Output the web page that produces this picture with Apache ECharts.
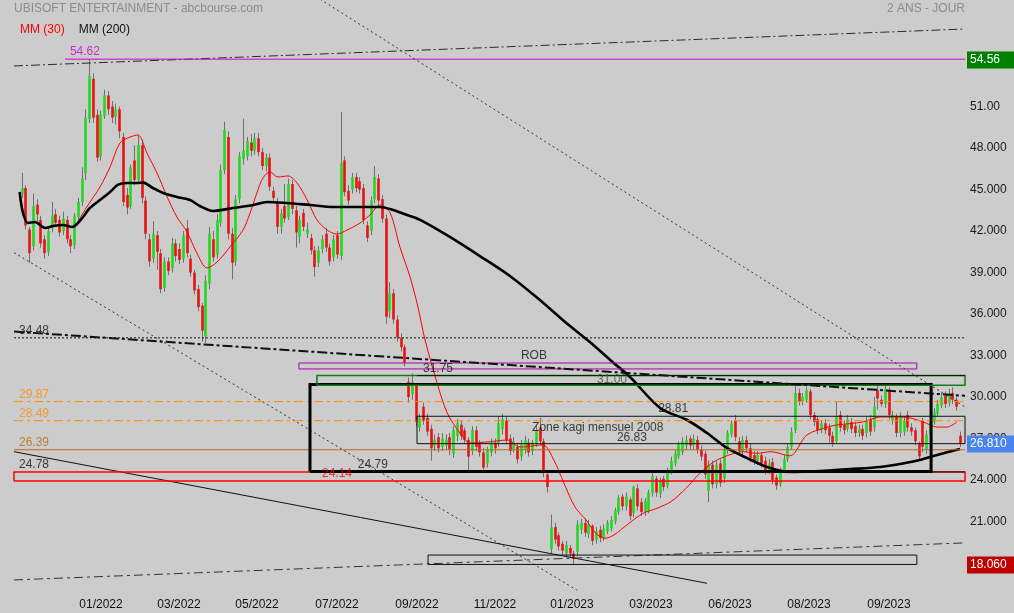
<!DOCTYPE html>
<html><head><meta charset="utf-8">
<script src="https://cdn.jsdelivr.net/npm/echarts@6/dist/echarts.min.js"></script>
<style>html,body{margin:0;padding:0;background:#cccccc}#c{width:1014px;height:613px}</style>
</head><body><div id="c"></div>
<script>
// ---------- DATA ----------
// daily candles (sampled), each [open, close, low, high]
const ohlc = [
[44.9,45.3,44.6,46.4],[45.3,42.6,42.3,45.5],[42.3,40.6,39.9,42.5],[41.1,44.0,40.8,44.9],[44.1,43.4,42.9,44.5],
[43.0,41.3,41.0,43.3],[41.6,40.6,40.2,41.9],[40.7,42.2,40.4,42.5],[42.4,43.3,42.1,44.3],[43.4,42.8,42.5,43.8],
[43.0,42.1,41.8,43.3],[42.2,43.1,41.9,43.6],[43.0,41.6,41.3,43.3],[41.6,41.1,40.6,41.9],[41.2,43.3,40.9,43.5],
[43.2,44.3,43.0,44.6],[44.3,46.0,44.0,46.8],[46.4,50.4,45.9,51.0],[50.3,53.4,50.0,54.62],[53.2,50.4,50.0,53.6],
[50.6,47.5,47.2,51.0],[47.6,50.6,47.3,50.9],[50.5,52.0,50.3,52.4],[52.0,51.0,50.6,52.3],[51.2,50.4,50.0,51.6],
[50.5,51.0,49.9,51.4],[51.0,49.4,48.9,51.2],[49.0,44.3,44.0,49.3],[44.8,43.9,43.4,45.3],[44.0,46.8,43.8,47.0],
[47.3,45.9,45.5,48.4],[45.9,48.4,45.6,49.1],[48.4,44.6,44.2,48.8],[44.4,42.0,41.6,44.7],[41.6,40.0,39.6,42.0],
[40.2,42.0,39.9,42.9],[41.9,40.7,39.4,42.2],[40.6,38.0,37.7,40.9],[38.1,40.0,37.8,40.3],[40.0,39.3,39.0,40.3],
[39.5,41.3,39.2,41.7],[41.3,40.4,40.0,41.6],[40.9,40.1,39.8,41.3],[40.2,41.9,39.9,42.2],[42.4,40.6,40.3,43.0],
[40.2,39.2,38.9,40.5],[39.2,37.9,37.6,39.4],[38.0,36.7,36.4,38.3],[36.8,35.0,34.2,37.0],[34.6,38.6,34.1,39.0],
[38.4,42.0,38.0,42.5],[41.6,40.3,40.0,42.2],[40.5,43.0,40.2,43.4],[42.8,46.6,42.5,47.0],[46.6,49.5,46.3,50.1],
[49.0,42.0,41.6,49.4],[42.0,39.9,38.7,42.4],[40.0,44.5,39.7,44.8],[44.5,47.6,44.2,47.9],[47.4,48.0,47.0,50.3],
[47.6,48.7,47.3,49.0],[48.6,48.0,47.6,49.2],[48.0,48.9,47.7,49.3],[48.9,47.9,47.6,49.3],[47.9,46.9,46.6,48.2],
[46.9,47.5,46.5,47.8],[47.5,45.4,45.1,47.8],[45.1,44.6,44.3,45.4],[44.3,42.5,42.0,44.6],[42.5,43.5,42.0,43.8],
[44.0,43.1,42.8,45.6],[43.2,45.6,43.0,46.0],[45.6,43.8,43.4,45.9],[43.7,42.1,41.0,44.0],[41.8,43.0,41.3,43.3],
[43.5,42.5,42.2,43.8],[42.0,42.3,41.7,42.8],[41.7,40.8,40.5,42.0],[40.8,39.6,38.9,41.1],[39.9,40.8,39.6,41.1],
[40.9,41.6,40.6,41.9],[42.0,41.0,40.7,42.4],[41.0,40.0,39.7,41.3],[40.3,41.6,40.0,41.9],[41.9,40.5,40.2,42.2],
[40.4,47.1,40.1,50.8],[47.3,45.0,44.7,47.6],[45.1,44.4,44.1,45.5],[45.2,46.1,44.9,46.4],[46.1,45.3,45.0,46.4],
[45.8,45.2,44.9,46.1],[45.3,43.0,42.7,45.6],[42.6,41.7,41.4,42.9],[42.2,44.4,41.9,44.7],[44.5,46.1,44.2,46.9],
[46.0,44.4,44.1,46.3],[44.5,43.1,42.8,44.8],[43.1,36.0,35.5,43.4],[36.4,37.7,35.9,38.5],[37.7,35.8,35.5,38.0],
[35.8,34.5,34.2,36.1],[34.5,33.8,33.5,34.8],[33.8,32.7,32.4,34.0],[31.3,30.2,29.8,31.6],[30.4,31.3,30.0,31.9],
[31.0,28.4,28.1,31.2],[28.0,28.7,27.7,29.0],[29.5,28.5,28.2,29.8],[28.7,27.7,27.4,29.0],[27.9,26.5,25.6,28.2],
[26.7,27.1,26.3,27.5],[27.3,26.5,26.2,27.6],[26.6,27.2,26.3,27.6],[26.7,27.1,26.4,27.5],[27.3,26.4,26.0,27.6],
[26.1,27.8,25.8,28.1],[27.4,28.3,27.0,28.6],[28.2,27.4,27.1,28.5],[27.8,27.1,26.8,28.0],[27.1,25.9,24.9,27.3],
[26.3,27.8,26.0,28.1],[27.8,26.6,26.3,28.1],[26.8,26.2,25.9,27.1],[26.2,25.1,24.8,26.5],[25.4,26.4,25.1,26.6],
[26.2,26.9,25.9,27.2],[26.9,26.5,26.1,27.2],[26.9,28.3,26.6,28.8],[27.9,28.6,27.5,29.0],[28.5,27.1,26.8,28.8],
[27.2,26.3,26.0,27.5],[26.4,27.0,26.2,27.3],[26.6,25.7,25.4,26.9],[25.9,26.8,25.6,27.1],[26.4,27.1,26.1,27.4],
[26.9,26.2,25.9,27.2],[26.3,26.9,26.0,27.1],[26.9,27.8,26.6,28.1],[28.0,27.0,26.7,28.7],[27.0,24.7,24.4,27.2],
[24.6,23.7,23.3,24.9],[19.2,20.8,18.9,21.7],[20.8,19.9,19.6,21.1],[20.2,19.4,19.1,20.4],[19.6,19.1,18.8,19.8],
[18.9,19.5,18.6,19.8],[19.3,18.9,18.6,19.5],[18.9,18.5,18.06,19.1],[19.0,21.0,18.7,21.3],[20.6,21.1,20.3,21.4],
[21.1,20.4,20.1,21.4],[20.3,21.0,20.0,21.3],[20.9,19.8,19.5,21.0],[19.9,20.5,19.6,20.8],[20.6,20.0,19.7,20.9],
[20.0,20.7,19.8,21.0],[20.5,21.1,20.3,21.3],[20.7,21.3,20.5,21.6],[21.2,22.0,21.0,22.2],[21.9,22.9,21.7,23.1],
[23.0,22.3,22.0,23.2],[22.3,23.0,22.0,23.3],[22.8,21.6,21.3,23.0],[21.8,23.7,21.5,23.8],[23.6,22.3,22.0,23.9],
[22.6,21.9,21.6,22.9],[21.9,22.7,21.6,22.9],[22.0,23.3,21.8,23.5],[23.3,24.5,23.0,24.7],[24.3,23.3,23.0,24.5],
[23.2,24.2,22.9,24.4],[24.3,23.7,23.4,24.5],[23.8,24.9,23.6,25.1],[24.8,25.6,24.6,25.9],[25.4,26.1,25.2,26.4],
[25.9,26.8,25.7,27.0],[26.2,27.0,26.0,27.3],[26.7,27.1,26.4,27.4],[27.2,26.7,26.4,27.4],[26.7,27.2,26.4,27.5],
[27.1,26.4,26.1,27.4],[26.4,25.9,25.6,26.7],[26.1,24.6,24.3,26.3],[23.4,25.3,22.6,25.6],[25.3,23.9,23.6,25.6],
[23.9,25.3,23.6,25.6],[25.4,24.0,23.7,25.7],[24.3,26.4,24.0,26.7],[26.3,27.6,26.1,27.8],[27.5,28.3,27.3,28.5],
[28.5,27.3,27.0,28.9],[27.0,26.3,26.0,27.3],[26.3,27.1,26.0,27.4],[27.1,26.5,26.2,27.4],[26.5,25.8,25.5,26.8],
[26.0,25.6,25.3,26.3],[25.6,26.0,25.3,26.3],[26.0,25.4,25.1,26.2],[25.6,24.9,24.6,25.9],[24.9,25.4,24.6,25.7],
[25.5,24.2,23.9,25.8],[24.4,23.8,23.5,24.6],[23.9,24.8,23.7,25.1],[24.9,25.7,24.7,26.0],[25.7,26.6,25.5,26.8],
[26.6,27.7,26.4,28.0],[27.8,30.5,27.6,31.0],[30.5,29.9,29.6,30.8],[29.9,30.2,29.6,30.5],[30.0,30.7,29.8,30.9],
[30.6,28.9,28.6,30.8],[28.9,28.4,28.1,29.1],[28.6,27.8,27.5,28.8],[27.8,28.3,27.6,28.5],[28.3,27.8,27.5,28.6],
[28.0,27.4,26.9,28.3],[27.4,26.9,26.6,27.7],[27.0,28.8,26.8,29.9],[28.9,28.0,27.7,29.2],[28.2,27.8,27.5,28.5],
[27.9,28.6,27.7,28.9],[28.4,27.9,27.6,28.7],[28.1,27.6,27.3,28.4],[27.6,27.9,27.3,28.2],[27.9,27.4,27.1,28.2],
[27.6,28.5,27.3,28.8],[28.6,27.7,27.4,28.9],[28.0,29.5,27.7,30.2],[30.7,30.1,29.3,31.2],[30.0,29.7,29.5,30.3],
[29.7,30.8,29.4,31.0],[30.6,28.9,28.6,30.9],[28.5,28.9,28.2,29.2],[28.8,27.6,27.3,29.0],[27.6,28.8,27.3,29.1],
[27.7,28.5,27.4,28.8],[28.9,28.0,27.7,29.2],[28.0,27.7,27.4,28.3],[27.8,27.0,26.7,28.0],[26.8,25.9,25.65,27.0],
[28.5,26.6,26.2,28.7],[26.4,27.5,26.1,27.8],[27.5,28.5,27.3,28.8],[28.4,29.1,28.2,29.4],[29.0,29.7,28.8,30.0],
[29.6,30.2,29.4,30.5],[30.3,29.7,29.4,30.6],[29.8,30.4,29.5,30.8],[30.5,30.0,29.7,30.9],[30.0,29.5,29.2,30.2],
[27.4,26.81,26.6,27.7]
];
// moving averages: [candle index, value]
const ma30 = [[14.0,42.42],[17.4,43.94],[20.9,45.38],[23.6,46.83],[26.2,48.56],[28.9,48.99],[31.0,49.14],[33.4,47.84],[36.1,46.39],[38.8,44.66],[41.4,43.21],[44.1,42.13],[46.7,40.61],[49.4,39.53],[52.1,39.96],[55.5,41.04],[59.0,42.27],[60.9,43.50],[62.7,44.95],[64.3,46.03],[66.2,46.47],[68.3,46.10],[71.0,46.18],[73.4,45.67],[76.1,44.44],[78.7,43.00],[81.4,42.27],[84.0,41.98],[86.7,42.27],[90.2,42.78],[92.8,43.36],[95.5,44.08],[98.2,43.50],[100.8,41.04],[103.5,38.88],[105.6,36.71],[107.5,34.32],[110.7,31.22],[113.4,29.05],[116.8,27.60],[119.5,26.88],[124.0,26.95],[129.3,27.09],[132.8,26.59],[138.9,26.74],[141.8,25.65],[144.5,23.97],[147.4,22.27],[150.4,21.31],[153.0,20.35],[155.4,19.99],[157.8,20.23],[161.8,21.07],[165.6,21.80],[169.3,22.16],[173.0,22.64],[177.0,23.60],[180.7,24.69],[184.5,25.53],[188.5,26.01],[192.2,26.25],[195.9,26.13],[199.7,26.25],[204.7,25.95],[209.2,27.46],[215.1,28.06],[217.2,28.18],[224.2,28.40],[228.7,28.76],[233.2,28.76],[236.7,28.69],[240.2,28.40],[243.9,28.03],[246.5,28.03],[249.2,28.40]];
const ma200 = [[-0.5,45.02],[0.4,43.50],[1.7,42.78],[3.6,42.85],[6.3,42.42],[8.4,42.56],[11.1,42.63],[13.5,42.49],[14.8,42.71],[16.4,43.21],[18.2,43.86],[20.9,44.44],[23.6,45.02],[25.7,45.55],[28.1,45.67],[30.8,45.67],[32.4,45.70],[35.0,45.31],[37.7,44.95],[41.4,44.66],[44.9,44.44],[47.5,44.01],[51.0,43.65],[56.3,43.86],[61.7,44.08],[65.4,44.30],[70.7,44.22],[76.9,44.08],[83.0,43.94],[89.4,43.94],[95.5,43.94],[99.0,43.72],[102.7,43.36],[106.2,43.00],[114.1,41.77],[122.1,40.39],[130.1,38.95],[138.1,37.21],[144.8,35.62],[151.4,34.18],[156.8,32.88],[162.1,31.65],[170.1,29.41],[177.3,28.54],[182.6,27.60],[187.9,26.52],[193.3,25.79],[198.6,25.14],[204.7,24.78],[212.7,24.85],[220.7,24.99],[228.7,25.14],[235.4,25.43],[239.3,25.65],[243.9,26.01],[250.0,26.45]];
// x tick labels and their candle positions
const xTickPos = [21.18,41.95,62.73,84.04,105.35,126.13,146.64,167.68,188.73,209.78,231.06];
const xTickLabels = ['01/2022','03/2022','05/2022','07/2022','09/2022','11/2022','01/2023','03/2023','06/2023','08/2023','09/2023'];
const yTicks = [21,24,27,30,33,36,39,42,45,48,51];
// price tags
const periodHigh = 54.56, lastPrice = 26.81, periodLow = 18.06;
// horizontal levels
const levelMagenta = 54.62, levelDotted = 34.48, levelsOrange = [29.87, 28.49], levelBrown = 26.39;
const zoneRed = [24.14, 24.78], zoneKagi = [26.83, 28.81], zoneGreen = [31.05, 31.75], zoneRob = [32.23, 32.66], zoneBottom = [18.10, 18.78], boxBig = [24.82, 31.11];
const level2479 = 24.79, level3175 = 31.75;

// ---------- LAYOUT ----------
const X0 = -2, X1 = 251.33;
const FONT = 'Liberation Sans, Arial, sans-serif';
const drawings = [
  {pts:[[X0,54.13],[X1,56.80]], color:'#2a2a2a', width:1, dash:[9,3,2,3]},
  {pts:[[11.6,levelMagenta],[X1,levelMagenta]], color:'#cc00cc', width:1},
  {pts:[[71.7,60.3],[X1,29.48]], color:'#333', width:1, dash:[2,3]},
  {pts:[[X0,40.64],[152.1,15.57]], color:'#333', width:1, dash:[2,3]},
  {pts:[[X0,levelDotted],[X1,levelDotted]], color:'#111', width:1, dash:[2,2]},
  {pts:[[X0,levelsOrange[0]],[X1,levelsOrange[0]]], color:'#ff8c00', width:1, dash:[9,4,3,4]},
  {pts:[[X0,levelsOrange[1]],[X1,levelsOrange[1]]], color:'#ff8c00', width:1, dash:[9,4,3,4]},
  {pts:[[X0,levelBrown],[X1,levelBrown]], color:'#b86a1c', width:1},
  {pts:[[X0,26.25],[182.6,16.74]], color:'#111', width:1},
  {pts:[[X0,16.98],[X1,19.66]], color:'#333', width:1, dash:[9,4,3,4]},
  {rect:[X0,X1,zoneRed[0],zoneRed[1]], color:'#ff0000', width:1.5},
  {pts:[[76.85,level2479],[X1,level2479]], color:'#111', width:1},
  {rect:[76.85,242.3,boxBig[0],boxBig[1]], color:'#000', width:3},
  {rect:[105.35,X1,zoneKagi[0],zoneKagi[1]], color:'#111', width:1},
  {rect:[78.7,X1,zoneGreen[0],zoneGreen[1]], color:'#167a16', width:1.5},
  {pts:[[105.35,level3175],[X1,level3175]], color:'#111', width:1},
  {rect:[73.9,238.5,zoneRob[0],zoneRob[1]], color:'#aa00aa', width:1},
  {rect:[108.3,238.5,zoneBottom[0],zoneBottom[1]], color:'#111', width:1},
  {pts:[[X0,34.93],[X1,30.29]], color:'#111', width:2, dash:[10,3,3,3]}
];
const texts = [
  {t:'54.62', p:[12.9,55.14], c:'#cc00cc'},
  {t:'34.48', p:[-0.67,34.97], c:'#111'},
  {t:'29.87', p:[-0.67,30.35], c:'#ff8c00'},
  {t:'28.49', p:[-0.67,28.97], c:'#ff8c00'},
  {t:'26.39', p:[-0.67,26.92], c:'#b86a1c'},
  {t:'24.78', p:[-0.67,25.32], c:'#111'},
  {t:'ROB', p:[136.5,33.17], c:'#111', center:true},
  {t:'31.75', p:[106.95,32.23], c:'#111'},
  {t:'31.00', p:[153.3,31.43], c:'#2f5f2f'},
  {t:'28.81', p:[169.6,29.34], c:'#111'},
  {t:'Zone kagi mensuel 2008', p:[136.0,27.99], c:'#111'},
  {t:'26.83', p:[158.6,27.28], c:'#111'},
  {t:'24.79', p:[89.6,25.32], c:'#111'},
  {t:'24.14', p:[80.05,24.64], c:'#ff0000'}
];

function polyOf(d){
  if (d.pts) return d.pts;
  const [a,b,lo,hi] = d.rect;
  return [[a,lo],[b,lo],[b,hi],[a,hi],[a,lo]];
}

const series = [];
series.push({
  type:'custom', name:'candles', z:2, clip:true, silent:true,
  data: ohlc.map((d,i)=>[i,d[0],d[1],d[2],d[3]]),
  encode:{x:0, y:[1,2,3,4]},
  renderItem(params, api){
    const x=api.value(0), o=api.value(1), c=api.value(2), l=api.value(3), h=api.value(4);
    const pO=api.coord([x,o]), pC=api.coord([x,c]), pL=api.coord([x,l]), pH=api.coord([x,h]);
    const w=2.6, up=c>=o;
    const cx=Math.round(pO[0])+0.5;
    return {type:'group', children:[
      {type:'line', shape:{x1:cx,y1:pL[1],x2:cx,y2:pH[1]}, style:{stroke:'#6f6f6f',lineWidth:1}},
      {type:'rect', shape:{x:cx-w/2, y:Math.min(pO[1],pC[1]), width:w, height:Math.max(1,Math.abs(pO[1]-pC[1]))}, style:{fill: up?'#22d622':'#e81212'}}
    ]};
  }
});
series.push({type:'line', name:'MM (30)', data:ma30, smooth:0.3, showSymbol:false, z:4, silent:true, lineStyle:{color:'#ff0000', width:1}, itemStyle:{color:'#ff0000'}});
series.push({type:'line', name:'MM (200)', data:ma200, smooth:0.3, showSymbol:false, z:4, silent:true, lineStyle:{color:'#000', width:2.6}, itemStyle:{color:'#000'}});
drawings.forEach((d,i)=>{
  series.push({type:'line', name:'d'+i, data:polyOf(d), showSymbol:false, silent:true, z:5, animation:false,
    lineStyle:{color:d.color, width:d.width, type:d.dash||'solid', cap:'butt', join:'miter'}});
});
series.push({
  type:'scatter', name:'texts', symbolSize:0, silent:true, z:6, clip:false,
  data: texts.map(t=>({value:t.p, label:{show:true, formatter:t.t, color:t.c, position:t.center?'inside':'right', distance:0, fontSize:12, fontFamily:FONT}}))
});

const chart = echarts.init(document.getElementById('c'), null, {renderer:'canvas'});
chart.setOption({
  backgroundColor:'#cccccc',
  animation:false,
  title:[
    {text:'UBISOFT ENTERTAINMENT - abcbourse.com', left:14, top:3, padding:0, textStyle:{fontSize:12, fontWeight:'normal', color:'#8c8c8c', fontFamily:FONT}},
    {text:'2 ANS - JOUR', right:49, top:3, padding:0, textStyle:{fontSize:12, fontWeight:'normal', color:'#8c8c8c', fontFamily:FONT}}
  ],
  legend:{
    left:14, top:24, padding:0, itemWidth:0, itemHeight:0, itemGap:8, selectedMode:false,
    data:[{name:'MM (30)', textStyle:{color:'#ff0000'}},{name:'MM (200)', textStyle:{color:'#111'}}],
    textStyle:{fontSize:12, fontFamily:FONT}
  },
  grid:{left:14, right:49, top:0, bottom:23},
  xAxis:{
    type:'value', min:X0, max:X1,
    axisLine:{show:false}, axisTick:{show:false}, splitLine:{show:false},
    axisLabel:{customValues:xTickPos, margin:9, fontSize:12, color:'#111', fontFamily:FONT,
      formatter:v=>{const k=xTickPos.findIndex(p=>Math.abs(p-v)<1e-6); return k>=0?xTickLabels[k]:'';}}
  },
  yAxis:{
    type:'value', position:'right', min:16.254, max:58.896,
    axisLine:{show:false}, axisTick:{show:false}, splitLine:{show:false},
    axisLabel:{customValues:yTicks, margin:5, fontSize:12, color:'#1a1a1a', fontFamily:FONT, verticalAlign:'bottom', lineHeight:6,
      formatter:v=> v===51 ? '51.00' : v.toFixed(3)}
  },
  series
});

function tag(v, text, fill){
  const y = chart.convertToPixel({yAxisIndex:0}, v);
  return {type:'group', z:100, children:[
    {type:'rect', z:100, shape:{x:967, y:Math.round(y)-8.5, width:47, height:17}, style:{fill}},
    {type:'text', z:101, style:{x:970, y:Math.round(y), text, fill:'#ffffff', font:'12px '+FONT, verticalAlign:'middle', textVerticalAlign:'middle'}}
  ]};
}
chart.setOption({graphic:[
  tag(periodHigh, periodHigh.toFixed(2), '#008000'),
  tag(lastPrice, lastPrice.toFixed(3), '#4a84f0'),
  tag(periodLow, periodLow.toFixed(3), '#c00000')
]});
</script></body></html>
